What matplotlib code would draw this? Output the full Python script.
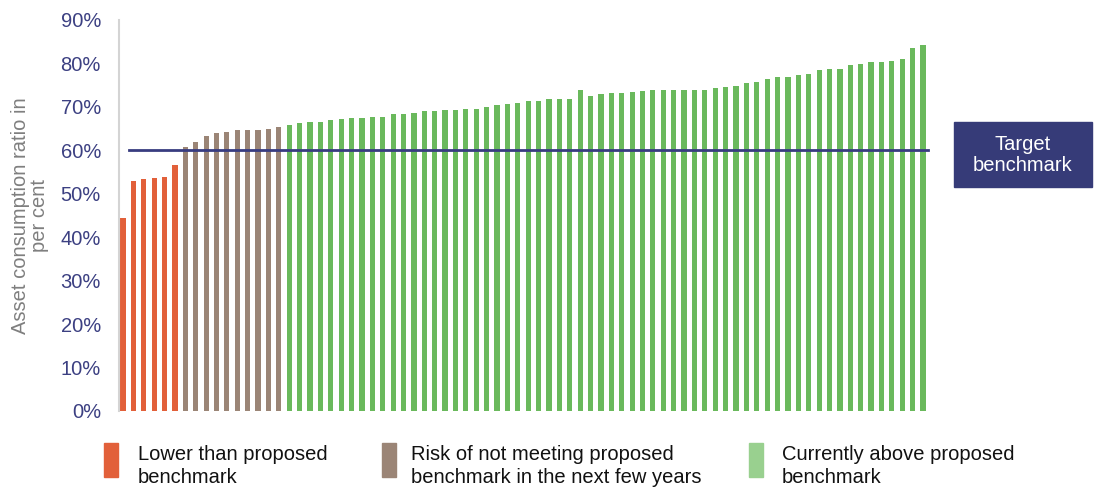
import matplotlib
matplotlib.use("Agg")
import matplotlib.pyplot as plt
from matplotlib.patches import Rectangle

plt.rcParams["font.family"] = ["Liberation Sans", "DejaVu Sans"]

# asset consumption ratio (%), sorted, split by group
lower = [44.4, 52.9, 53.4, 53.6, 53.9, 56.6]
at_risk = [60.8, 61.9, 63.3, 64.0, 64.2, 64.7, 64.7, 64.7, 64.9, 65.4]
above = [65.8, 66.3, 66.5, 66.5, 67.0, 67.2, 67.4, 67.4, 67.7, 67.7,
         68.4, 68.4, 68.6, 69.1, 69.1, 69.3, 69.3,
         69.5, 69.5, 70.0, 70.4, 70.7, 70.9, 71.4, 71.4, 71.8, 71.8,
         71.8, 73.9, 72.5, 73.0, 73.2, 73.2,
         73.4, 73.7, 73.9, 73.9, 73.9, 73.9, 73.9, 73.9, 74.4, 74.6,
         74.8, 75.5, 75.7, 76.4, 76.9, 76.9, 77.3,
         77.6, 78.5, 78.7, 78.7, 79.6, 79.9, 80.3, 80.3, 80.6, 81.0,
         83.6, 84.3]
target = 60
yticks = [0, 10, 20, 30, 40, 50, 60, 70, 80, 90]

groups = [
    (lower, "#e2603a", "#e2603a", "Lower than proposed\nbenchmark"),
    (at_risk, "#9b8576", "#9b8576", "Risk of not meeting proposed\nbenchmark in the next few years"),
    (above, "#6ab95c", "#99d08f", "Currently above proposed\nbenchmark"),
]

W, H = 1099, 488
fig = plt.figure(figsize=(W / 100, H / 100), dpi=100)
ax = fig.add_axes([119 / W, 1 - 411 / H, (930 - 119) / W, (411 - 20) / H])

start = 0
for vals, col, _, _ in groups:
    xs = range(start, start + len(vals))
    ax.bar(list(xs), [v / 100 for v in vals], width=0.5, color=col, zorder=2)
    start += len(vals)

n = start
ax.set_xlim(-0.385, n - 1 + 0.67)
ax.set_ylim(0, 0.9)
ax.axhline(target / 100, xmin=0.012, xmax=0.997, color="#383c80", lw=2, zorder=3)

ax.set_xticks([])
ax.set_yticks([t / 100 for t in yticks])
ax.set_yticklabels([f"{t}%" for t in yticks], color="#3c4082", fontsize=14.5)
ax.tick_params(axis="y", length=0, pad=13)
for s in ["top", "right", "bottom"]:
    ax.spines[s].set_visible(False)
ax.spines["left"].set_color("#d4d4d4")
ax.spines["left"].set_linewidth(1.5)
ax.set_ylabel("Asset consumption ratio in\nper cent", color="#7f7f7f",
              fontsize=14.5, labelpad=8, linespacing=1.05)

# target benchmark box
fig.patches.append(Rectangle((954 / W, 1 - 187 / H), (1092 - 954) / W, (187 - 122) / H,
                             transform=fig.transFigure, color="#363b78", zorder=5))
fig.text(1023 / W, 1 - 155 / H, "Target\nbenchmark", color="white", fontsize=14.5,
         ha="center", va="center", linespacing=1.15, zorder=6)

# legend
patch_x = [104, 382, 749]
text_x = [138, 411, 782]
for (vals, _, lcol, label), px, tx in zip(groups, patch_x, text_x):
    fig.patches.append(Rectangle((px / W, 1 - 477 / H), 14 / W, 34 / H,
                                 transform=fig.transFigure, color=lcol))
    fig.text(tx / W, 1 - 445 / H, label, fontsize=14.5, color="#111111",
             ha="left", va="top", linespacing=1.28)

fig.savefig("out.png", dpi=100)
